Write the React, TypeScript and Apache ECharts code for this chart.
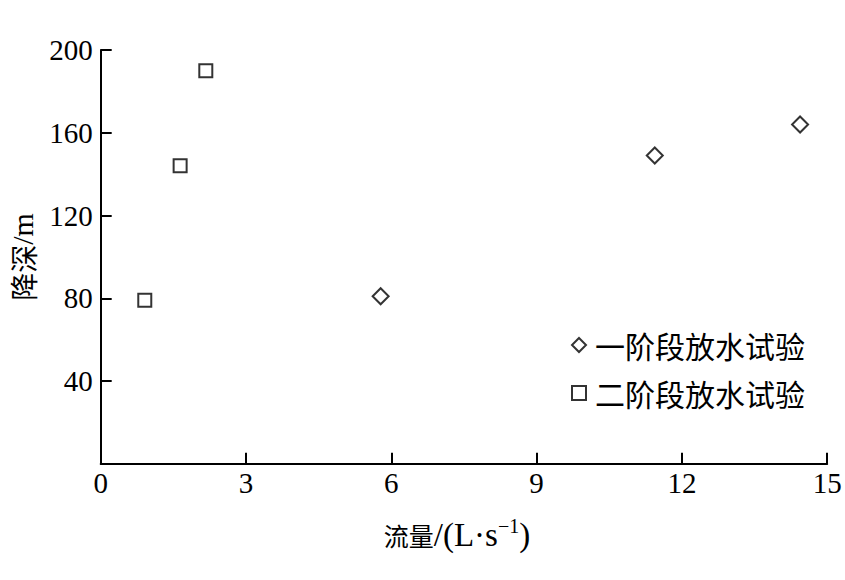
import React, { useEffect, useRef } from "react";
import * as echarts from "echarts";

// Flow rate (L/s) and drawdown (m) for the two pumping-test stages
const stage1Flow = [5.78, 11.44, 14.44];
const stage1Drawdown = [81, 149, 164];
const stage2Flow = [0.91, 1.64, 2.17];
const stage2Drawdown = [79, 144, 190];

const seriesNames = ["一阶段放水试验", "二阶段放水试验"];

const LATIN = "'Liberation Serif', 'Times New Roman', serif";
const CJK = "'Noto Sans CJK SC', 'Liberation Serif', serif";

export default function App() {
  const ref = useRef<HTMLDivElement>(null);

  useEffect(() => {
    if (!ref.current) return;
    const chart = echarts.init(ref.current, undefined, { renderer: "svg" });

    const pointStyle = { color: "#fff", borderColor: "#000", borderWidth: 2 };
    const axisLine = { show: true, lineStyle: { color: "#000", width: 2 } };
    const axisTick = { show: true, inside: true, length: 11, lineStyle: { color: "#000", width: 2 } };
    const axisLabel = { color: "#000", fontFamily: LATIN, fontSize: 29 };

    chart.setOption({
      animation: false,
      backgroundColor: "#fff",
      grid: {
        left: 100.7,
        right: 17.8,
        top: 50,
        bottom: 116.2,
        containLabel: false,
        outerBoundsMode: "none",
      },
      legend: {
        orient: "vertical",
        left: 571,
        top: 330,
        padding: 0,
        itemWidth: 14,
        itemHeight: 14,
        itemGap: 18,
        textStyle: {
          color: "#000",
          fontFamily: CJK,
          fontSize: 30,
          padding: [0, 0, 0, 4],
        },
        data: seriesNames,
      },
      xAxis: {
        type: "value",
        min: 0,
        max: 15,
        interval: 3,
        splitLine: { show: false },
        axisLine,
        axisTick,
        axisLabel: { ...axisLabel, margin: 5 },
        name: "{cn|流量}{lat|/(L·s}{sup|−1}{lat|)}",
        nameLocation: "middle",
        nameGap: 52,
        nameTextStyle: {
          color: "#000",
          padding: [0, 14, 0, 0],
          rich: {
            cn: { fontFamily: CJK, fontSize: 25, color: "#000", lineHeight: 38 },
            lat: { fontFamily: LATIN, fontSize: 33, color: "#000", lineHeight: 38 },
            sup: { fontFamily: LATIN, fontSize: 20, color: "#000", verticalAlign: "top", lineHeight: 38, padding: [0, 0, 12, 0] },
          },
        },
      },
      yAxis: {
        type: "value",
        min: 0,
        max: 200,
        interval: 40,
        splitLine: { show: false },
        axisLine,
        axisTick,
        axisLabel: { ...axisLabel, margin: 8, showMinLabel: false },
        name: "{cn|降深}{lat|/m}",
        nameLocation: "middle",
        nameGap: 63,
        nameTextStyle: {
          color: "#000",
          rich: {
            cn: { fontFamily: CJK, fontSize: 28, color: "#000", lineHeight: 30 },
            lat: { fontFamily: LATIN, fontSize: 30, color: "#000", lineHeight: 30 },
          },
        },
      },
      series: [
        {
          name: seriesNames[0],
          type: "scatter",
          symbol: "diamond",
          symbolSize: 16,
          itemStyle: pointStyle,
          data: stage1Flow.map((x, i) => [x, stage1Drawdown[i]]),
        },
        {
          name: seriesNames[1],
          type: "scatter",
          symbol: "rect",
          symbolSize: 13,
          itemStyle: pointStyle,
          data: stage2Flow.map((x, i) => [x, stage2Drawdown[i]]),
        },
      ],
    });

    return () => chart.dispose();
  }, []);

  return (
    <div
      ref={ref}
      style={{ position: "fixed", left: 0, top: 0, width: 845, height: 580 }}
    />
  );
}
